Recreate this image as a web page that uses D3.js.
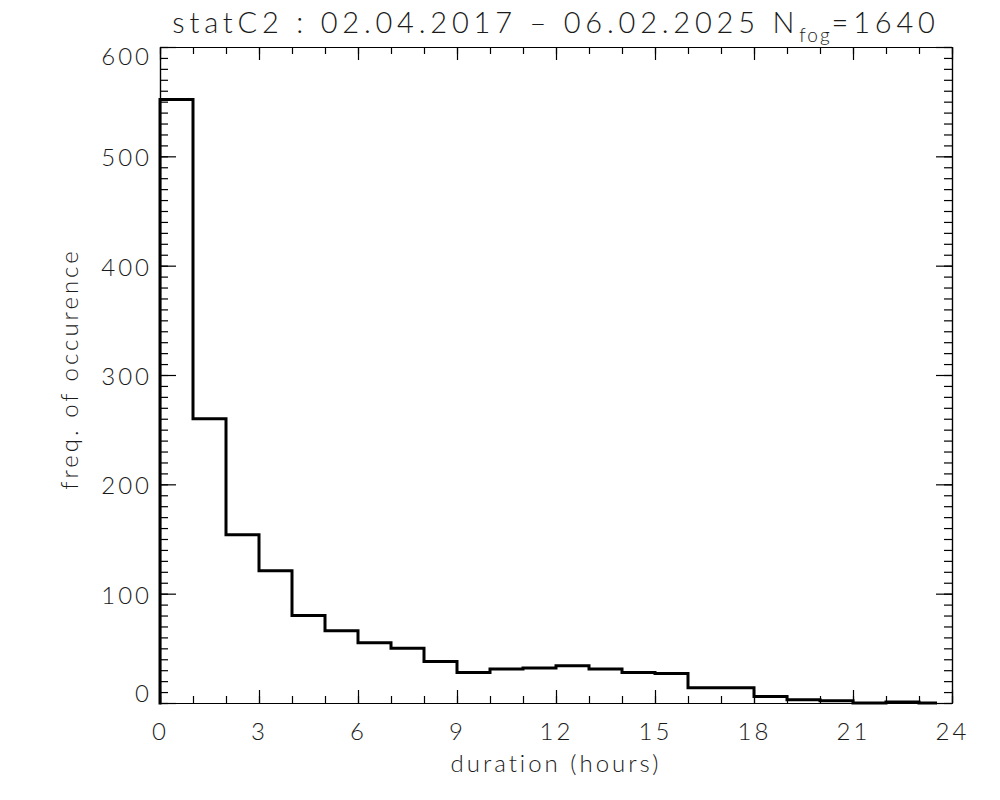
<!DOCTYPE html>
<html>
<head>
<meta charset="utf-8">
<script src="https://cdn.jsdelivr.net/npm/d3@7"></script>
<style>
  html, body { margin: 0; padding: 0; background: #fff; }
  svg text { font-family: Lato, Roboto, "DejaVu Sans", sans-serif; font-weight: 300; fill: #1a1a1a; }
</style>
</head>
<body>
<svg id="chart" width="1000" height="800"></svg>
<script>
// ---- data ----
const binEdges = [0,1,2,3,4,5,6,7,8,9,10,11,12,13,14,15,16,17,18,19,20,21,22,23,23.5];
const counts   = [552,260,154,121,80,66,55,50,38,28,31,32,34,31,28,27,14,14,6,3,2,0,1,0];
const xMajorTicks = [0,3,6,9,12,15,18,21,24];
const xMinorTicks = d3.range(0, 25, 1);
const yMajorTicks = [0,100,200,300,400,500,600];
const yMinorTicks = d3.range(0, 601, 10);
const titleMain = "statC2 : 02.04.2017 \u2013 06.02.2025 N";
const titleSub = "fog";
const titleTail = "=1640";
const xLabel = "duration (hours)";
const yLabel = "freq. of occurence";

// ---- layout ----
const L = 160, R = 952, T = 47, B = 703;
const svg = d3.select("#chart");
const x = d3.scaleLinear().domain([0, 24]).range([L, R]);
const y = d3.scaleLinear().domain([0, 600]).range([B, T]);

const tickFont = 24;
const FONT = "Lato, Roboto, 'DejaVu Sans', sans-serif";

function styleAxis(g) {
  g.selectAll("path.domain").attr("stroke", "#000").attr("stroke-width", 1.2);
  g.selectAll(".tick line").attr("stroke", "#000").attr("stroke-width", 1.2);
  g.selectAll(".tick text").attr("font-size", tickFont).attr("letter-spacing", 3)
    .attr("font-family", FONT).attr("font-weight", 300).attr("fill", "#1a1a1a");
}

// bottom axis (major + minor), ticks inward
svg.append("g").attr("transform", `translate(0,${B})`)
  .call(d3.axisBottom(x).tickValues(xMajorTicks).tickSize(-13).tickSizeOuter(0).tickPadding(20).tickFormat(d3.format("d")))
  .call(styleAxis);
svg.append("g").attr("transform", `translate(0,${B})`)
  .call(d3.axisBottom(x).tickValues(xMinorTicks).tickSize(-7).tickSizeOuter(0).tickFormat(""))
  .call(styleAxis);
// top axis
svg.append("g").attr("transform", `translate(0,${T})`)
  .call(d3.axisTop(x).tickValues(xMajorTicks).tickSize(-13).tickSizeOuter(0).tickFormat(""))
  .call(styleAxis);
svg.append("g").attr("transform", `translate(0,${T})`)
  .call(d3.axisTop(x).tickValues(xMinorTicks).tickSize(-7).tickSizeOuter(0).tickFormat(""))
  .call(styleAxis);
// left axis
const gl = svg.append("g").attr("transform", `translate(${L},0)`)
  .call(d3.axisLeft(y).tickValues(yMajorTicks).tickSize(-16).tickSizeOuter(0).tickPadding(8).tickFormat(d3.format("d")))
  .call(styleAxis);
gl.selectAll(".tick text").attr("dy", d => d === 600 ? "0.72em" : d === 0 ? "-0.05em" : "0.4em");
svg.append("g").attr("transform", `translate(${L},0)`)
  .call(d3.axisLeft(y).tickValues(yMinorTicks).tickSize(-8).tickSizeOuter(0).tickFormat(""))
  .call(styleAxis);
// right axis
svg.append("g").attr("transform", `translate(${R},0)`)
  .call(d3.axisRight(y).tickValues(yMajorTicks).tickSize(-16).tickSizeOuter(0).tickFormat(""))
  .call(styleAxis);
svg.append("g").attr("transform", `translate(${R},0)`)
  .call(d3.axisRight(y).tickValues(yMinorTicks).tickSize(-8).tickSizeOuter(0).tickFormat(""))
  .call(styleAxis);

// ---- histogram step line ----
const pts = [[binEdges[0], 0]];
counts.forEach((c, i) => pts.push([binEdges[i], c]));
pts.push([binEdges[binEdges.length - 1], counts[counts.length - 1]]);
const line = d3.line().x(d => x(d[0])).y(d => y(d[1])).curve(d3.curveStepAfter);
svg.append("path").datum(pts)
  .attr("d", line)
  .attr("fill", "none")
  .attr("stroke", "#000")
  .attr("stroke-width", 3)
  .attr("stroke-linejoin", "miter")
  .attr("stroke-linecap", "square");

// ---- titles ----
const title = svg.append("text")
  .attr("x", 556).attr("y", 33)
  .attr("text-anchor", "middle")
  .attr("font-size", 29).attr("letter-spacing", 4.8);
title.append("tspan").text(titleMain);
title.append("tspan").attr("font-size", 19).attr("dy", 9).attr("letter-spacing", 2).text(titleSub);
title.append("tspan").attr("font-size", 29).attr("dy", -9).text(titleTail);

svg.append("text")
  .attr("x", 556).attr("y", 772)
  .attr("text-anchor", "middle")
  .attr("font-size", 24).attr("letter-spacing", 3)
  .text(xLabel);

svg.append("text")
  .attr("transform", `translate(78,369) rotate(-90)`)
  .attr("text-anchor", "middle")
  .attr("font-size", 24).attr("letter-spacing", 3)
  .text(yLabel);
</script>
</body>
</html>
